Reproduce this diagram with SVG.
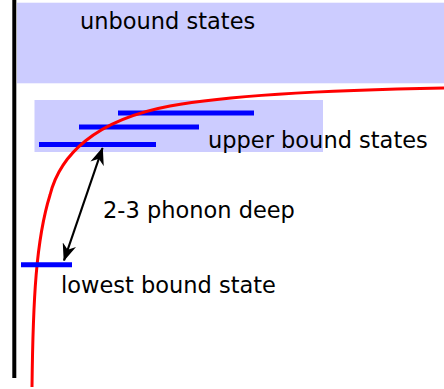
<svg xmlns="http://www.w3.org/2000/svg" width="444" height="389" viewBox="0 0 444 389">
<style>
.band{fill:#ccccff;stroke:none}
.lvl{stroke:#0000ff;stroke-width:5;fill:none}
.lbl{font-family:"DejaVu Sans",sans-serif;font-size:22.5px;fill:#000}
</style>
<defs>
<marker id="ah" viewBox="0 0 20 16" refX="19" refY="8" markerWidth="8" markerHeight="6.4" orient="auto-start-reverse" markerUnits="strokeWidth">
<path d="M0,0 L20,8 L0,16 L6,8 Z" fill="#000"/>
</marker>
</defs>
<rect width="444" height="389" fill="#fff"/>
<g id="axis"><line x1="14.3" y1="0" x2="14.3" y2="378" stroke="#000" stroke-width="4"/></g>
<g id="unbound"><rect class="band" x="17" y="2.7" width="427" height="80.6"/><text class="lbl" x="80" y="29">unbound states</text></g>
<g id="upper"><rect class="band" x="34.5" y="100" width="288.5" height="52"/>
<line class="lvl" x1="118" y1="113" x2="254" y2="113"/>
<line class="lvl" x1="79" y1="127" x2="199" y2="127"/>
<line class="lvl" x1="39" y1="144.5" x2="156" y2="144.5"/>
<text class="lbl" x="208" y="148">upper bound states</text></g>
<g id="potential"><path d="M32,387 C33,300 36,240 50,195 C60,155 95,120 170,106 C230,95 330,90 444,88" fill="none" stroke="#ff0000" stroke-width="3"/></g>
<g id="lowest"><line class="lvl" x1="21" y1="264.7" x2="72" y2="264.7"/><text class="lbl" x="61" y="293">lowest bound state</text></g>
<g id="connectors"><line x1="102.5" y1="148" x2="64" y2="260.5" stroke="#000" stroke-width="2.2" marker-start="url(#ah)" marker-end="url(#ah)"/></g>
<g id="depth"><text class="lbl" x="103" y="218">2-3 phonon deep</text></g>
</svg>
